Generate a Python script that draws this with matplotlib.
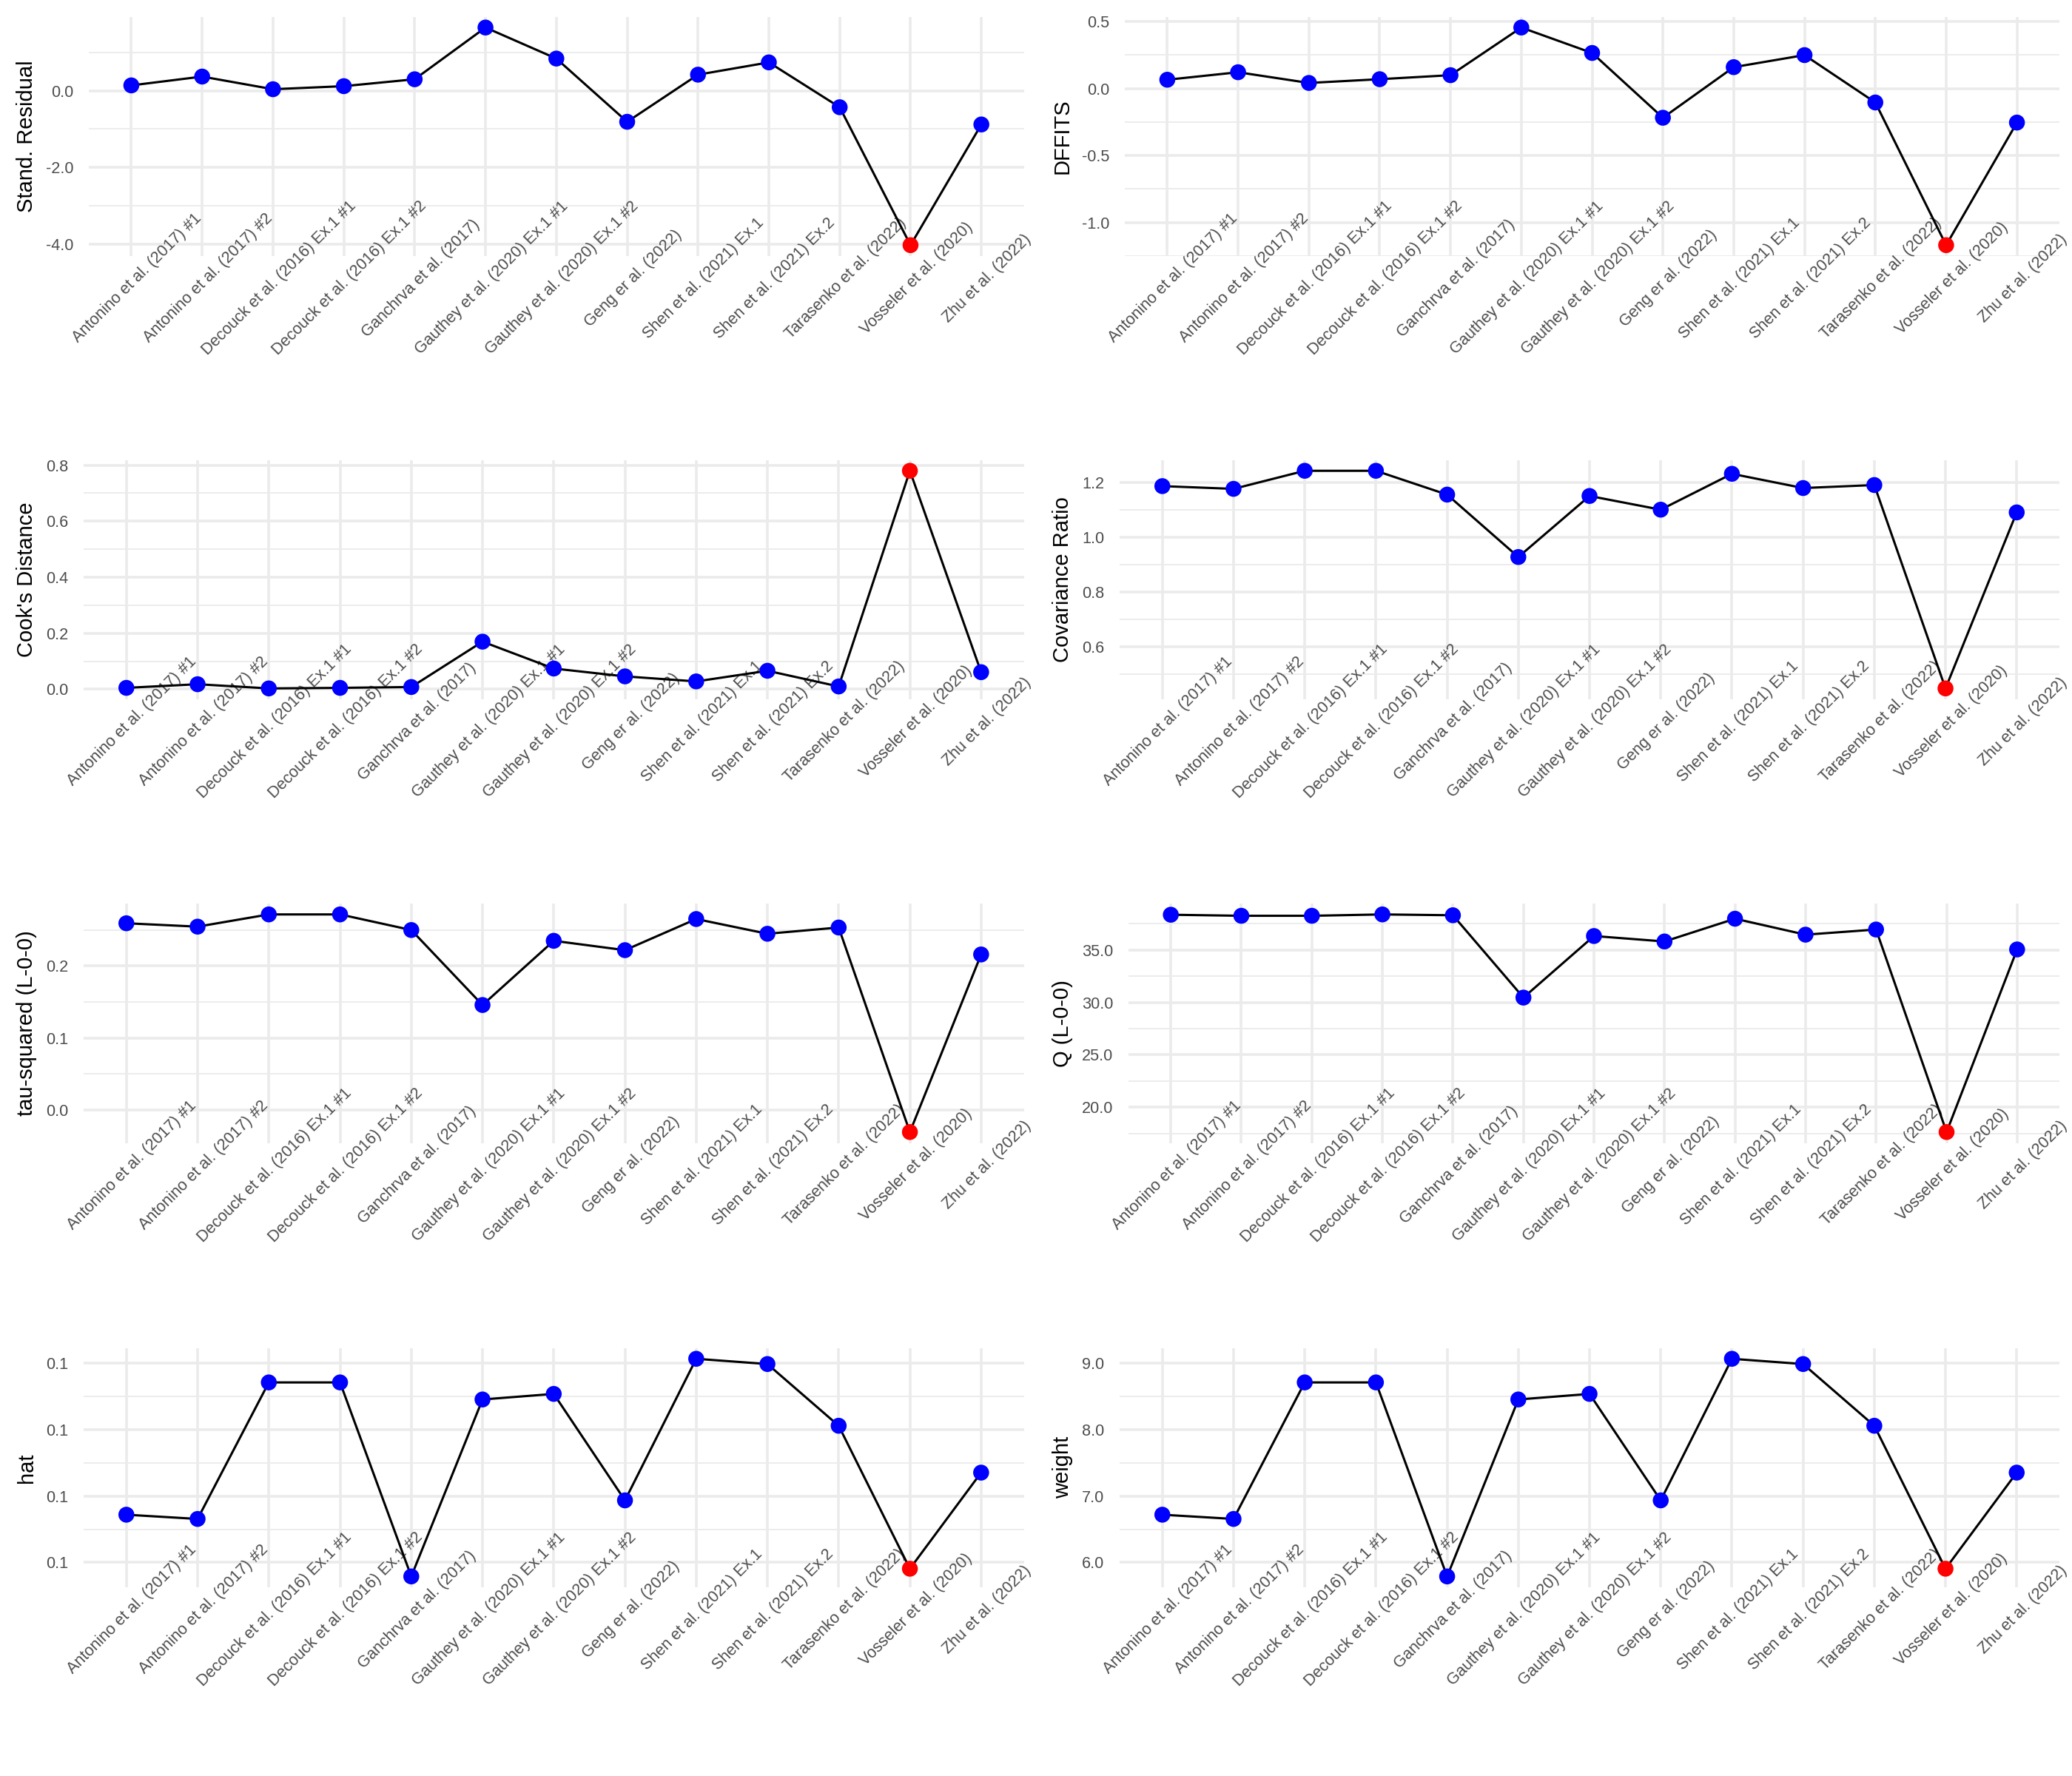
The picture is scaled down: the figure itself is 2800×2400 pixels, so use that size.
import matplotlib
matplotlib.use("Agg")
import matplotlib.pyplot as plt
import matplotlib.transforms as mtransforms
from matplotlib.ticker import MultipleLocator, FormatStrFormatter

plt.rcParams['font.family'] = ['Liberation Sans', 'DejaVu Sans']
plt.rcParams['axes.unicode_minus'] = False

studies = ["Antonino et al. (2017) #1", "Antonino et al. (2017) #2",
           "Decouck et al. (2016) Ex.1 #1", "Decouck et al. (2016) Ex.1 #2",
           "Ganchrva et al. (2017)", "Gauthey et al. (2020) Ex.1 #1",
           "Gauthey et al. (2020) Ex.1 #2", "Geng er al. (2022)",
           "Shen et al. (2021) Ex.1", "Shen et al. (2021) Ex.2",
           "Tarasenko et al. (2022)", "Vosseler et al. (2020)", "Zhu et al. (2022)"]

stand_residual = [0.14, 0.37, 0.04, 0.12, 0.30, 1.65, 0.84, -0.81, 0.42, 0.74, -0.43, -4.03, -0.88]
dffits = [0.066, 0.122, 0.042, 0.070, 0.100, 0.456, 0.266, -0.218, 0.160, 0.250, -0.104, -1.17, -0.254]
cooks_distance = [0.005, 0.018, 0.003, 0.005, 0.008, 0.170, 0.074, 0.046, 0.028, 0.066, 0.010, 0.780, 0.061]
covariance_ratio = [1.186, 1.176, 1.242, 1.242, 1.155, 0.927, 1.150, 1.100, 1.231, 1.179, 1.190, 0.447, 1.090]
tau_squared = [0.2594, 0.2547, 0.2717, 0.2717, 0.2500, 0.1457, 0.2350, 0.2220, 0.2653, 0.2448, 0.2535, -0.031, 0.2160]
q_loo = [38.36, 38.26, 38.26, 38.39, 38.31, 30.46, 36.33, 35.81, 37.98, 36.46, 36.95, 17.64, 35.05]
hat = [0.0672, 0.06656, 0.08713, 0.08713, 0.0579, 0.08456, 0.0854, 0.06936, 0.09069, 0.0899, 0.0806, 0.05906, 0.07354]
weight = [6.72, 6.656, 8.713, 8.713, 5.79, 8.456, 8.54, 6.936, 9.069, 8.99, 8.06, 5.906, 7.354]

influential = "Vosseler et al. (2020)"

# (title, values, major step, minor step, left px, row, column)
panels = [
    ("Stand. Residual", stand_residual, 2.0, 1.0, 120, 0, 0),
    ("DFFITS", dffits, 0.5, 0.25, 1520, 0, 1),
    ("Cook's Distance", cooks_distance, 0.2, 0.1, 113, 1, 0),
    ("Covariance Ratio", covariance_ratio, 0.2, 0.1, 1513, 1, 1),
    ("tau-squared (L-0-0)", tau_squared, 0.1, 0.05, 113, 2, 0),
    ("Q (L-0-0)", q_loo, 5.0, 2.5, 1525, 2, 1),
    ("hat", hat, 0.01, 0.005, 113, 3, 0),
    ("weight", weight, 1.0, 0.5, 1513, 3, 1),
]

W, H = 2800, 2400
fig = plt.figure(figsize=(14, 12), dpi=200)
fig.patch.set_facecolor('white')

row_tops = [22.5, 621.5, 1221, 1821.5]
panel_h = 323.5
right_edges = [1383.6, 2783]
title_x = [50, 1450]
grid_col = '#EBEBEB'
txt_col = '#4D4D4D'

x = list(range(len(studies)))
for title, vals, maj, mnr, left, r, c in panels:
    top = row_tops[r]
    right = right_edges[c]
    ax = fig.add_axes([left / W, 1 - (top + panel_h) / H, (right - left) / W, panel_h / H])
    ax.set_facecolor('white')
    for s in ax.spines.values():
        s.set_visible(False)
    ax.plot(x, vals, color='black', lw=1.1, zorder=3)
    cols = ['#FF0000' if s == influential else '#0000FF' for s in studies]
    ax.scatter(x, vals, c=cols, s=60, zorder=4, linewidths=0)
    ax.set_xlim(-0.6, len(studies) - 1 + 0.6)
    lo, hi = min(vals), max(vals)
    pad = (hi - lo) * 0.05
    ax.set_ylim(lo - pad, hi + pad)
    ax.yaxis.set_major_locator(MultipleLocator(maj))
    ax.yaxis.set_minor_locator(MultipleLocator(mnr))
    ax.yaxis.set_major_formatter(FormatStrFormatter('%.1f'))
    ax.set_xticks(x)
    ax.set_xticklabels([''] * len(x))
    ax.tick_params(axis='both', which='both', length=0)
    ax.tick_params(axis='y', labelsize=7.8, labelcolor=txt_col, pad=7.5)
    ax.grid(True, which='major', axis='both', color=grid_col, lw=1.3, zorder=0)
    ax.grid(True, which='minor', axis='y', color=grid_col, lw=0.65, zorder=0)
    ax.set_axisbelow(True)
    # y title
    ax.set_ylabel(title, fontsize=10.5, color='black')
    ax.yaxis.set_label_coords(title_x[c] / W, 0.5,
                              transform=mtransforms.blended_transform_factory(fig.transFigure, ax.transAxes))
    # x category labels (drawn beneath the data marks, as in the reference)
    trans = mtransforms.blended_transform_factory(ax.transData, ax.transAxes) + \
        mtransforms.ScaledTranslation(2.9 / 72, -10.8 / 72, fig.dpi_scale_trans)
    for i, s in enumerate(studies):
        ax.text(i, 0, s, transform=trans, rotation=45, rotation_mode='anchor',
                ha='center', va='center', fontsize=7.8, color=txt_col, clip_on=False,
                zorder=2.5)

fig.savefig('out.png', dpi=200, facecolor='white')
